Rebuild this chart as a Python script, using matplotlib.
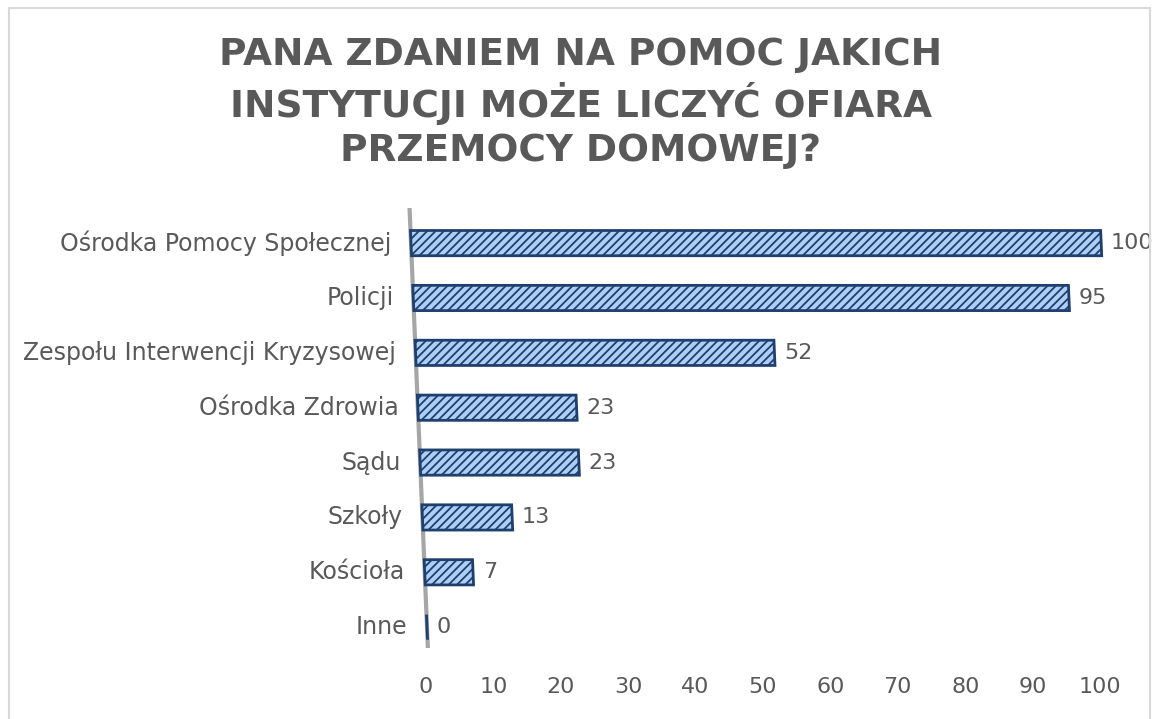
import math
import matplotlib
matplotlib.use('Agg')
import matplotlib.pyplot as plt
import matplotlib.transforms as mtransforms
from matplotlib.patches import Rectangle

categories = ['Ośrodka Pomocy Społecznej', 'Policji', 'Zespołu Interwencji Kryzysowej',
              'Ośrodka Zdrowia', 'Sądu', 'Szkoły', 'Kościoła', 'Inne']
values = [100, 95, 52, 23, 23, 13, 7, 0]
x_ticks = list(range(0, 101, 10))
title = 'PANA ZDANIEM NA POMOC JAKICH\nINSTYTUCJI MOŻE LICZYĆ OFIARA\nPRZEMOCY DOMOWEJ?'

W, H, DPI = 1153, 719, 100
text_col = '#595959'
plt.rcParams['font.family'] = ['DejaVu Sans']
plt.rcParams['hatch.linewidth'] = 1.3

fig = plt.figure(figsize=(W / DPI, H / DPI), dpi=DPI)

# plot box in pixels: x 426..1100, y 208..648 (from top)
ax = fig.add_axes([426 / W, (H - 648) / H, 674 / W, 440 / H])

# fake 3D perspective: bars lean left going up, and are a bit longer than the axis scale
slope = 16 / 384
persp = (mtransforms.Affine2D()
         .translate(-426, 0)
         .scale(1.024, 1)
         .skew(-math.atan(slope), 0)
         .translate(426 + 1 + slope * 92, 0))
bar_trans = ax.transData + persp

pos = list(range(len(categories)))
ax.barh(pos, values, height=0.46, color='#aecff5', edgecolor='#1f3f6e',
        hatch='////', linewidth=2, transform=bar_trans, clip_on=False, zorder=3)

# vertical axis line (leaning)
ax.plot([0, 0], [-0.64, 7.38], transform=bar_trans, color='#a6a6a6', lw=3,
        clip_on=False, zorder=2, solid_capstyle='butt')

for i, (cat, v) in enumerate(zip(categories, values)):
    ax.annotate(cat, xy=(0, i), xycoords=bar_trans, xytext=(-14, 0),
                textcoords='offset points', ha='right', va='center',
                fontsize=17, color=text_col)
    ax.annotate(str(v), xy=(v, i), xycoords=bar_trans, xytext=(7, 0),
                textcoords='offset points', ha='left', va='center',
                fontsize=16, color=text_col)

ax.set_xlim(0, 100)
ax.set_ylim(7.38, -0.64)
ax.set_xticks(x_ticks)
ax.set_yticks([])
ax.tick_params(axis='x', length=0, pad=21, labelsize=16, labelcolor=text_col)
for s in ax.spines.values():
    s.set_visible(False)

fig.text(581 / W, 1 - 103 / H, title, ha='center', va='center', fontsize=27,
         fontweight='bold', color=text_col, linespacing=1.28)

fig.add_artist(Rectangle((9 / W, -0.01), (1150 - 9) / W, (H - 8) / H + 0.01,
                         transform=fig.transFigure, fill=False,
                         edgecolor='#d9d9d9', lw=1.5))

fig.savefig('out.png', dpi=DPI)
